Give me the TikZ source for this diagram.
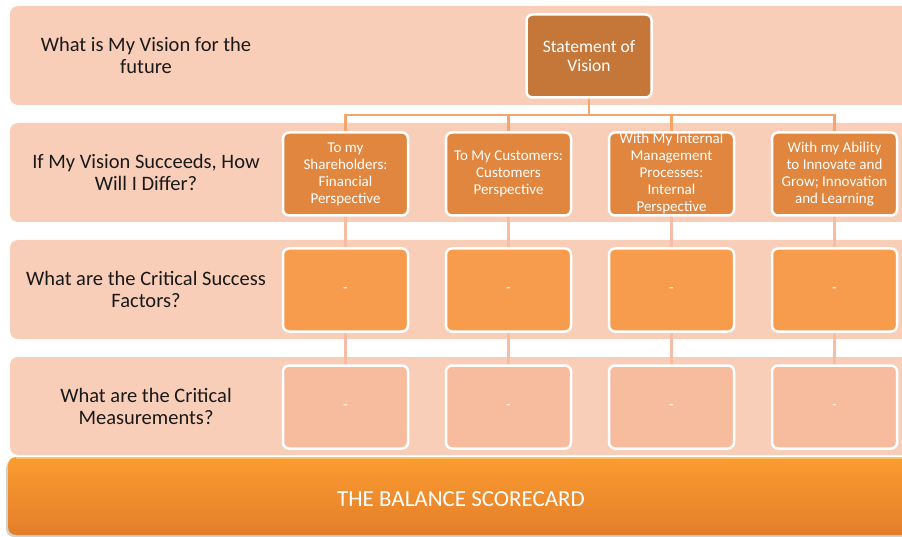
\documentclass[tikz,border=0pt]{standalone}
\usepackage{fontspec}
\setmainfont{Carlito}
\definecolor{bandc}{HTML}{F9CEB9}
\definecolor{visionc}{HTML}{C5773A}
\definecolor{perspc}{HTML}{E0863F}
\definecolor{factorc}{HTML}{F79B4D}
\definecolor{measc}{HTML}{F7BC9E}
\definecolor{busc}{HTML}{F5A46A}
\definecolor{linkc}{HTML}{F6BDA2}
\definecolor{bartop}{HTML}{FB9C30}
\definecolor{barbot}{HTML}{E37E2A}
\definecolor{barlight}{HTML}{FCC066}
\begin{document}
\begin{tikzpicture}[x=1pt,y=-1pt,
  bandbox/.style={fill=bandc, rounded corners=8pt},
  cell/.style={draw=white, line width=2.5pt, rounded corners=6pt,
    minimum width=125pt, minimum height=83pt, inner sep=1pt,
    align=center, text=white, font=\fontsize{15}{17}\selectfont},
  question/.style={align=center, text=black!90,
    font=\fontsize{20.5}{22}\selectfont},
  bus/.style={draw=busc, line width=2.6pt},
  link/.style={draw=linkc, line width=2.2pt}]
\useasboundingbox (0,0) rectangle (902,537);
\clip (0,0) rectangle (902,537);

% background bands
\fill[bandbox] (10,6) rectangle (930,105);
\fill[bandbox] (10,123) rectangle (930,222);
\fill[bandbox] (10,240) rectangle (930,339);
\fill[bandbox] (10,357) rectangle (930,455);

% row questions
\node[question] (q1) at (146,55) {What is My Vision for the\\future};
\node[question] (q2) at (146,172) {If My Vision Succeeds, How\\Will I Differ?};
\node[question] (q3) at (146,289) {What are the Critical Success\\Factors?};
\node[question] (q4) at (146,406) {What are the Critical\\Measurements?};

% connectors (drawn first, boxes sit on top)
\coordinate (v-s) at (589,98);
\coordinate (p1-n) at (345.5,131);
\coordinate (p2-n) at (508.5,131);
\coordinate (p3-n) at (671.5,131);
\coordinate (p4-n) at (834.5,131);
\foreach \i in {1,2,3,4}
  \draw[bus] (v-s) -- ++(0,17) -| (p\i-n);
\foreach \i/\x in {1/345.5,2/508.5,3/671.5,4/834.5}{
  \coordinate (p\i-s) at (\x,214);
  \coordinate (c\i-n) at (\x,249);
  \coordinate (c\i-s) at (\x,331);
  \coordinate (m\i-n) at (\x,366);
  \draw[link] (p\i-s) -- (c\i-n);
  \draw[link] (c\i-s) -- (m\i-n);
}

% vision statement
\node[cell, fill=visionc, font=\fontsize{17.5}{19.5}\selectfont] (vision) at (589,56)
  {Statement of\\Vision};

% perspectives
\node[cell, fill=perspc] (p1) at (345.5,174) {To my\\Shareholders:\\Financial\\Perspective};
\node[cell, fill=perspc] (p2) at (508.5,174) {To My Customers:\\Customers\\Perspective};
\node[cell, fill=perspc] (p3) at (671.5,174) {With My Internal\\Management\\Processes:\\Internal\\Perspective};
\node[cell, fill=perspc] (p4) at (834.5,174) {With my Ability\\to Innovate and\\Grow; Innovation\\and Learning};

% critical success factors
\foreach \i/\x in {1/345.5,2/508.5,3/671.5,4/834.5}
  \node[cell, fill=factorc] (c\i) at (\x,290) {-};

% critical measurements
\foreach \i/\x in {1/345.5,2/508.5,3/671.5,4/834.5}
  \node[cell, fill=measc] (m\i) at (\x,407) {-};

% scorecard bar
\fill[black!18, rounded corners=8pt] (6,460) rectangle (930,537);
\shade[top color=bartop, bottom color=barbot, rounded corners=8pt]
  (8,457) rectangle (930,535);
\draw[barlight, line width=1.2pt] (16,458) -- (930,458);
\node[text=white, font=\fontsize{23}{26}\selectfont] (score) at (461,499)
  {THE BALANCE SCORECARD};
\end{tikzpicture}
\end{document}
